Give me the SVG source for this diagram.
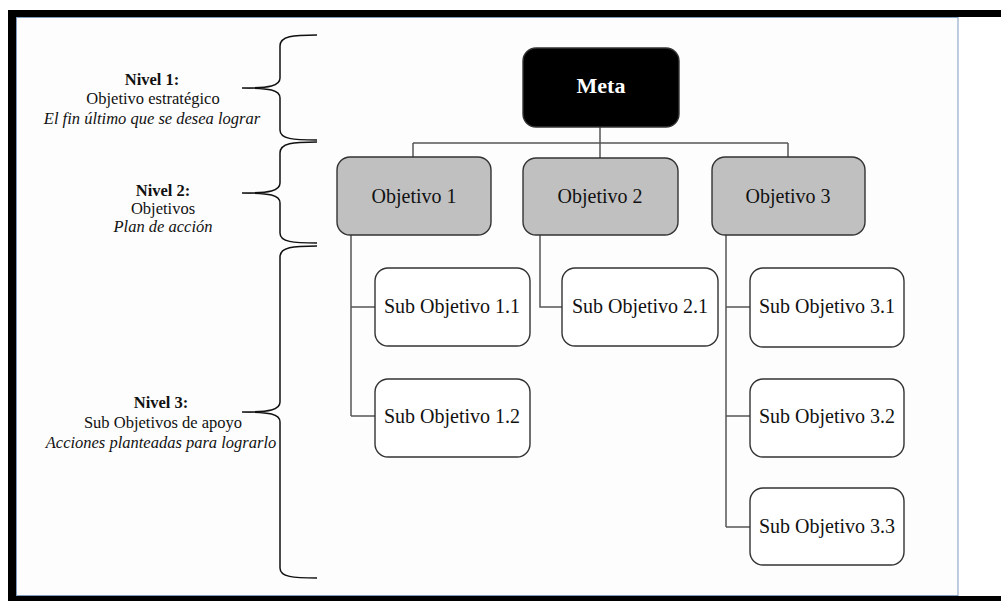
<svg xmlns="http://www.w3.org/2000/svg" width="1001" height="601" viewBox="0 0 1001 601">
  <defs>
    <style>
      .box { stroke: #333; stroke-width: 1.4; }
      .meta { fill: #000; }
      .obj { fill: #c0c0c0; }
      .sub { fill: #fff; }
      .label { font-family: "Liberation Serif", "Times New Roman", serif; font-size: 20px; fill: #111; text-anchor: middle; }
      .metalabel { font-family: "Liberation Serif", "Times New Roman", serif; font-size: 22px; font-weight: bold; fill: #fff; text-anchor: middle; }
      .conn { fill: none; stroke: #555; stroke-width: 1.5; }
      .brace { fill: none; stroke: #111; stroke-width: 1.5; }
      .lvl { font-family: "Liberation Serif", "Times New Roman", serif; font-size: 16.5px; fill: #111; text-anchor: middle; }
      .lvl .b { font-weight: bold; }
      .lvl .i { font-style: italic; }
    </style>
  </defs>

  <!-- page frame -->
  <rect x="8" y="10" width="993" height="591" fill="#000"/>
  <rect x="16" y="17" width="985" height="579" fill="#fff"/>
  <rect x="16.5" y="17.5" width="941.5" height="578" fill="#fdfdfd" stroke="#7f9cbf" stroke-width="1"/>

  <!-- level braces and captions -->
  <g id="levels">
    <path class="brace" d="M317,35 C293,35 280,36 280,46 L280,78 C280,86 270,88 242,88 C270,88 280,90 280,98 L280,130 C280,139 293,140 317,140"/>
    <path class="brace" d="M317,142 C293,142 280,143 280,153 L280,183 C280,191 270,193 242,193 C270,193 280,195 280,203 L280,233 C280,242 293,243 317,243"/>
    <path class="brace" d="M317,246 C293,246 280,247 280,257 L280,402 C280,410 270,412 242,412 C270,412 280,414 280,422 L280,568 C280,577 293,578 317,578"/>

    <text class="lvl" x="152" y="85"><tspan class="b">Nivel 1:</tspan></text>
    <text class="lvl" x="153" y="104">Objetivo estratégico</text>
    <text class="lvl" x="152" y="124"><tspan class="i">El fin último que se desea lograr</tspan></text>

    <text class="lvl" x="163" y="196"><tspan class="b">Nivel 2:</tspan></text>
    <text class="lvl" x="163" y="214">Objetivos</text>
    <text class="lvl" x="163" y="232"><tspan class="i">Plan de acción</tspan></text>

    <text class="lvl" x="161" y="408"><tspan class="b">Nivel 3:</tspan></text>
    <text class="lvl" x="163" y="428">Sub Objetivos de apoyo</text>
    <text class="lvl" x="161" y="448"><tspan class="i">Acciones planteadas para lograrlo</tspan></text>
  </g>

  <!-- connectors -->
  <g id="connectors">
    <path class="conn" d="M600,127 V143 M413,143 H788 M413,143 V157 M600,143 V158 M788,143 V157"/>
    <path class="conn" d="M351,235 V416 M351,307 H375 M351,416 H375"/>
    <path class="conn" d="M540,235 V307 H562"/>
    <path class="conn" d="M726,235 V527 M726,307 H750 M726,416 H750 M726,527 H750"/>
  </g>

  <!-- nodes -->
  <g id="meta">
    <rect class="box meta" x="523" y="48" width="156" height="79" rx="13"/>
    <text class="metalabel" x="601" y="93">Meta</text>
  </g>
  <g id="objetivo-1">
    <rect class="box obj" x="337" y="157" width="154" height="78" rx="13"/>
    <text class="label" x="414" y="203">Objetivo 1</text>
  </g>
  <g id="objetivo-2">
    <rect class="box obj" x="523" y="158" width="155" height="77" rx="13"/>
    <text class="label" x="600" y="203">Objetivo 2</text>
  </g>
  <g id="objetivo-3">
    <rect class="box obj" x="712" y="157" width="153" height="78" rx="13"/>
    <text class="label" x="788" y="203">Objetivo 3</text>
  </g>
  <g id="sub-1-1">
    <rect class="box sub" x="375" y="268" width="155" height="78" rx="13"/>
    <text class="label" x="452" y="313">Sub Objetivo 1.1</text>
  </g>
  <g id="sub-1-2">
    <rect class="box sub" x="375" y="379" width="155" height="78" rx="13"/>
    <text class="label" x="452" y="423">Sub Objetivo 1.2</text>
  </g>
  <g id="sub-2-1">
    <rect class="box sub" x="562" y="268" width="156" height="78" rx="13"/>
    <text class="label" x="640" y="313">Sub Objetivo 2.1</text>
  </g>
  <g id="sub-3-1">
    <rect class="box sub" x="750" y="268" width="154" height="79" rx="13"/>
    <text class="label" x="827" y="313">Sub Objetivo 3.1</text>
  </g>
  <g id="sub-3-2">
    <rect class="box sub" x="750" y="379" width="154" height="78" rx="13"/>
    <text class="label" x="827" y="423">Sub Objetivo 3.2</text>
  </g>
  <g id="sub-3-3">
    <rect class="box sub" x="750" y="488" width="154" height="77" rx="13"/>
    <text class="label" x="827" y="533">Sub Objetivo 3.3</text>
  </g>
</svg>
